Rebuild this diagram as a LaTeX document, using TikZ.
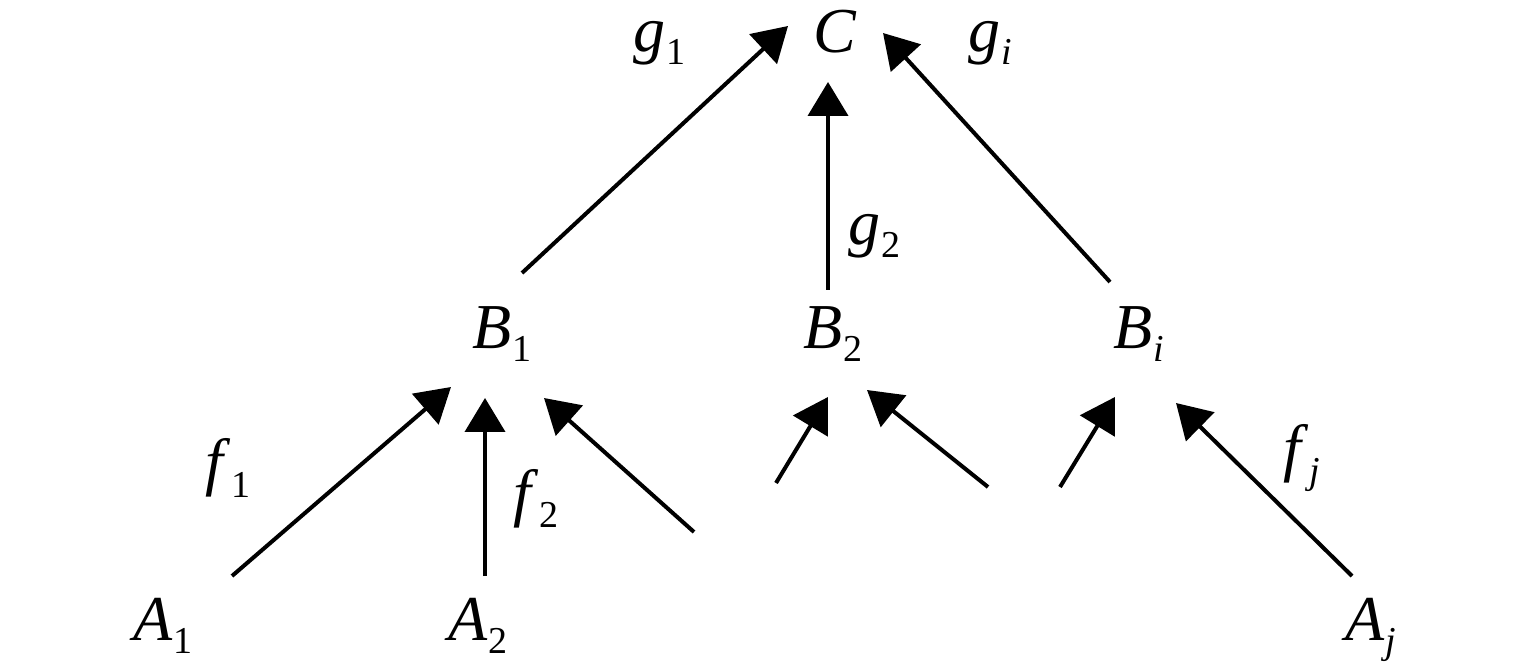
\documentclass[tikz,border=0pt]{standalone}
\usepackage{fontspec}
\setmainfont{Liberation Serif}
\usetikzlibrary{arrows.meta}
\newcommand\mylbl[2]{\textit{#1}\kern0.5pt\raisebox{-6.5pt}{\fontsize{19}{19}\selectfont #2}}
\tikzset{
  lab/.style={anchor=base west, inner sep=0pt, font=\fontsize{32}{36}\selectfont},
  arr/.style={line width=2pt, -{Triangle[length=17pt,width=20pt]}}
}
\begin{document}
\begin{tikzpicture}[x=0.5pt,y=-0.5pt]
\useasboundingbox (0,0) rectangle (1535,667);
% nodes
\node[lab] (C) at (813,53) {\textit{C}};
\node[lab] (B1) at (472,349) {\mylbl{B}{1}};
\node[lab] (B2) at (803,349) {\mylbl{B}{2}};
\node[lab] (Bi) at (1113,349) {\mylbl{B}{\textit{i}}};
\node[lab] (A1) at (133,640) {\mylbl{A}{1}};
\node[lab] (A2) at (448,640) {\mylbl{A}{2}};
\node[lab] (Aj) at (1345,640) {\mylbl{A}{\textit{j}}};
% edge labels
\node[lab] (g1) at (633,52) {\mylbl{g}{1}};
\node[lab] (gi) at (968,52) {\mylbl{g}{\textit{i}}};
\node[lab] (g2) at (848,245) {\mylbl{g}{2}};
\node[lab] (f1) at (205,484) {\mylbl{f}{1}};
\node[lab] (f2) at (513,514) {\mylbl{f}{2}};
\node[lab] (fj) at (1283,470) {\mylbl{f}{\textit{j}}};
% connector ends
\coordinate (s1) at (522,273);  \coordinate (t1) at (788,26);
\coordinate (s2) at (828,290);  \coordinate (t2) at (828,82);
\coordinate (s3) at (1110,282); \coordinate (t3) at (883,33);
\coordinate (a1) at (232,576);  \coordinate (b1) at (451,387);
\coordinate (a2) at (485,576);  \coordinate (b2) at (485,398);
\coordinate (a3) at (694,532);  \coordinate (b3) at (544,398);
\coordinate (a4) at (776,483);  \coordinate (b4) at (828,397);
\coordinate (a5) at (988,487);  \coordinate (b5) at (867,390);
\coordinate (a6) at (1060,487); \coordinate (b6) at (1115,397);
\coordinate (a7) at (1352,576); \coordinate (b7) at (1176,403);
% connectors
\foreach \s/\t in {s1/t1,s2/t2,s3/t3,a1/b1,a2/b2,a3/b3,a4/b4,a5/b5,a6/b6,a7/b7}
  \draw[arr] (\s) -- (\t);
\end{tikzpicture}
\end{document}
